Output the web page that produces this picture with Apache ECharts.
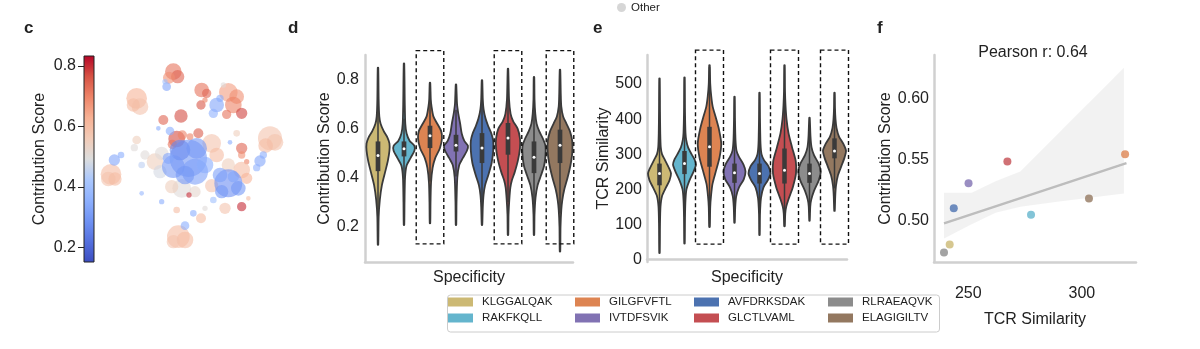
<!DOCTYPE html>
<html><head><meta charset="utf-8">
<script src="https://cdn.jsdelivr.net/npm/echarts@6/dist/echarts.min.js"></script>
<style>html,body{margin:0;padding:0;background:#fff}#c{width:1200px;height:349px}</style>
</head><body><div id="c"></div><script>
// ---------------- data ----------------
const categories = ['KLGGALQAK','RAKFKQLL','GILGFVFTL','IVTDFSVIK','AVFDRKSDAK','GLCTLVAML','RLRAEAQVK','ELAGIGILTV'];
const colors = ['#CCB974','#64B5CD','#DD8452','#8172B3','#4C72B0','#C44E52','#8C8C8C','#937860'];
const highlighted = [2, 5, 7];

// panel d: contribution score violins, [value, half width (fraction of band)]
const dProfiles = [
  [[0.127,0.01],[0.24,0.025],[0.31,0.07],[0.37,0.15],[0.43,0.29],[0.47,0.38],[0.51,0.44],[0.54,0.44],[0.565,0.36],[0.59,0.22],[0.62,0.1],[0.65,0.05],[0.72,0.025],[0.848,0.01]],
  [[0.208,0.01],[0.3,0.02],[0.4,0.04],[0.45,0.1],[0.48,0.25],[0.51,0.4],[0.53,0.4],[0.55,0.22],[0.58,0.1],[0.62,0.05],[0.7,0.03],[0.865,0.01]],
  [[0.215,0.01],[0.3,0.02],[0.38,0.04],[0.44,0.1],[0.48,0.2],[0.52,0.38],[0.56,0.46],[0.59,0.43],[0.62,0.28],[0.65,0.13],[0.69,0.06],[0.72,0.03],[0.787,0.01]],
  [[0.208,0.01],[0.3,0.02],[0.4,0.05],[0.45,0.12],[0.48,0.26],[0.51,0.42],[0.53,0.46],[0.55,0.32],[0.58,0.22],[0.62,0.16],[0.66,0.09],[0.7,0.04],[0.78,0.01]],
  [[0.208,0.01],[0.28,0.03],[0.33,0.06],[0.37,0.12],[0.41,0.24],[0.46,0.37],[0.51,0.43],[0.55,0.43],[0.58,0.36],[0.61,0.24],[0.64,0.14],[0.68,0.06],[0.72,0.03],[0.797,0.01]],
  [[0.167,0.01],[0.25,0.02],[0.31,0.05],[0.36,0.09],[0.39,0.15],[0.42,0.25],[0.47,0.38],[0.52,0.46],[0.56,0.46],[0.6,0.37],[0.63,0.2],[0.66,0.1],[0.72,0.04],[0.844,0.01]],
  [[0.167,0.01],[0.25,0.02],[0.32,0.06],[0.37,0.14],[0.41,0.27],[0.45,0.39],[0.49,0.44],[0.53,0.44],[0.56,0.34],[0.59,0.2],[0.62,0.1],[0.66,0.05],[0.72,0.02],[0.81,0.01]],
  [[0.10,0.01],[0.2,0.02],[0.27,0.05],[0.31,0.09],[0.35,0.16],[0.40,0.29],[0.45,0.4],[0.50,0.47],[0.55,0.47],[0.59,0.38],[0.62,0.25],[0.65,0.12],[0.69,0.05],[0.74,0.03],[0.84,0.01]]
];
// [lower whisker, q1, median, q3, upper whisker]
const dBoxes = [
  [0.245,0.427,0.491,0.548,0.73],
  [0.395,0.487,0.518,0.548,0.64],
  [0.385,0.521,0.571,0.612,0.748],
  [0.405,0.507,0.532,0.575,0.677],
  [0.277,0.46,0.521,0.582,0.765],
  [0.30,0.494,0.562,0.623,0.816],
  [0.226,0.419,0.484,0.548,0.74],
  [0.256,0.46,0.532,0.596,0.80]
];
const dBoxRange = [0.131, 0.918];
const dTicks = [0.2, 0.4, 0.6, 0.8];

// panel e: TCR similarity violins
const eProfiles = [
  [[18,0.01],[100,0.02],[150,0.04],[180,0.1],[205,0.26],[225,0.4],[245,0.46],[260,0.38],[283,0.22],[300,0.1],[320,0.05],[360,0.03],[420,0.02],[516,0.01]],
  [[45,0.01],[120,0.02],[170,0.04],[200,0.08],[225,0.2],[245,0.33],[270,0.46],[285,0.4],[300,0.28],[320,0.14],[340,0.07],[360,0.04],[420,0.02],[519,0.01]],
  [[92,0.01],[150,0.03],[180,0.06],[215,0.12],[255,0.27],[290,0.4],[330,0.47],[370,0.38],[405,0.25],[435,0.13],[465,0.07],[500,0.03],[554,0.01]],
  [[104,0.01],[150,0.03],[180,0.07],[205,0.18],[228,0.37],[250,0.44],[270,0.36],[292,0.18],[310,0.08],[340,0.04],[400,0.02],[464,0.01]],
  [[69,0.01],[130,0.02],[175,0.06],[205,0.16],[225,0.33],[245,0.44],[265,0.36],[283,0.18],[300,0.08],[330,0.04],[400,0.02],[475,0.01]],
  [[94,0.01],[130,0.03],[150,0.07],[175,0.18],[205,0.33],[245,0.46],[280,0.45],[320,0.3],[360,0.16],[400,0.08],[440,0.04],[480,0.02],[554,0.01]],
  [[110,0.01],[150,0.03],[170,0.07],[195,0.18],[225,0.37],[250,0.45],[272,0.37],[297,0.18],[320,0.08],[350,0.04],[404,0.01]],
  [[138,0.01],[180,0.03],[210,0.06],[240,0.14],[265,0.27],[290,0.4],[310,0.46],[330,0.35],[350,0.18],[375,0.08],[400,0.04],[430,0.02],[475,0.01]]
];
const eBoxes = [
  [118,211,245,273,366],
  [144,243,273,309,408],
  [93,264,321,378,549],
  [135,218,247,273,355],
  [130,216,245,273,358],
  [94,216,254,316,466],
  [135,218,245,273,355],
  [202,288,309,345,430]
];
const eBoxRange = [43, 597];
const eTicks = [0, 100, 200, 300, 400, 500];

// panel f: mean TCR similarity vs mean contribution score
const fX = [241.8, 277.6, 319.0, 250.1, 243.6, 267.2, 239.3, 303.1];
const fY = [0.480, 0.5044, 0.5543, 0.5303, 0.5097, 0.5482, 0.4733, 0.5179];
const regLine = [[239.3, 0.4973], [319.6, 0.5469]];
const ciUpper = [[239.3,0.5226],[251.5,0.5226],[262,0.532],[272.9,0.540],[318.5,0.6254]];
const ciLower = [[239.3,0.4849],[250.8,0.496],[262,0.506],[272.9,0.511],[289.1,0.5151],[318.5,0.522]];
const fXTicks = [250, 300];
const fYTicks = [0.50, 0.55, 0.60];
const pearson = 'Pearson r: 0.64';

// panel c: UMAP clusters [x, y, radius, contribution score]
const umapClusters = [
  [125,130,31,0.62],[135,155,25,0.58],[115,150,20,0.60],
  [48,358,31,0.60],[40,372,22,0.58],[60,372,20,0.60],
  [525,250,36,0.58],[540,262,25,0.58],[512,272,22,0.60],
  [250,545,34,0.60],[270,555,25,0.60],[235,560,20,0.58],
  [235,50,25,0.72],[248,65,20,0.74],[222,68,18,0.68],[215,95,13,0.33],[210,80,8,0.40],
  [320,105,22,0.72],[335,115,14,0.74],[318,150,14,0.76],[330,135,8,0.70],
  [400,112,28,0.66],[425,125,22,0.68],[415,150,25,0.70],[440,175,17,0.78],[395,178,14,0.72],[385,90,8,0.50],
  [365,150,22,0.33],[355,175,14,0.36],[375,130,11,0.35],
  [205,195,15,0.74],[258,183,20,0.77],[245,252,25,0.77],[232,268,14,0.72],[262,240,14,0.70],[225,228,13,0.35],[310,235,15,0.75],[285,245,10,0.70],
  [440,280,17,0.74],[425,235,10,0.55],[440,300,11,0.68],[455,320,8,0.70],
  [495,318,17,0.33],[505,300,11,0.35],[485,338,11,0.36],
  [58,315,17,0.33],[78,300,10,0.35],[125,255,13,0.55],[118,278,11,0.50],[150,300,14,0.50],[140,330,10,0.45],
  [180,320,25,0.55],[200,295,20,0.50],[195,350,20,0.48],[350,265,28,0.58],[365,300,22,0.60],[440,345,25,0.60],[455,370,17,0.62],[350,392,20,0.58],[260,400,28,0.50],[230,395,20,0.55],[300,410,17,0.52],[400,330,20,0.55],
  [280,310,56,0.30],[255,285,31,0.27],[305,280,31,0.30],[235,335,34,0.30],[300,350,39,0.32],[330,330,25,0.35],[270,360,28,0.30],[220,310,17,0.33],[400,385,42,0.28],[375,360,22,0.32],[430,400,22,0.30],[415,365,17,0.33],[380,410,20,0.30],
  [282,420,8,0.80],[440,455,14,0.80],[318,490,15,0.60],[390,460,17,0.58],[245,465,10,0.60],[270,512,13,0.35],[295,475,10,0.35],[200,440,8,0.35],[140,415,7,0.38],[355,435,10,0.40],[460,430,7,0.60],[190,220,7,0.35],[405,262,7,0.35],[330,460,8,0.50]
];
const cbRange = [0.151, 0.833];
const cbTicks = [0.2, 0.4, 0.6, 0.8];

// ---------------- chart ----------------
const coolwarm = ['#3b4cc0','#5470de','#6f92f3','#8db0fe','#aac7fd','#dcdddd','#f2cbb7','#f7b194','#ee8468','#d65244','#b40426'];
const FONT = 'Liberation Sans, Arial, sans-serif';
const TXT = '#222';
const AXC = '#d0d0d0';
const OUT = '#3a3a3a';

function violin(name, idx, profile, box, axisIdx) {
  return {
    type: 'custom', name, xAxisIndex: axisIdx, yAxisIndex: axisIdx, z: 3,
    itemStyle: { color: colors[idx] }, data: [[idx, box[2]]],
    renderItem(params, api) {
      const cx = api.coord([idx, box[2]])[0];
      const bw = api.size([1, 0])[0];
      const y = v => api.coord([idx, v])[1];
      const right = profile.map(p => [cx + p[1] * bw, y(p[0])]);
      const left = profile.slice().reverse().map(p => [cx - p[1] * bw, y(p[0])]);
      return { type: 'group', children: [
        { type: 'polygon', shape: { points: right.concat(left), smooth: 0.25 },
          style: { fill: colors[idx], stroke: OUT, lineWidth: 1.8 } },
        { type: 'line', shape: { x1: cx, y1: y(box[0]), x2: cx, y2: y(box[4]) },
          style: { stroke: OUT, lineWidth: 1.5 } },
        { type: 'rect', shape: { x: cx - 0.09 * bw, y: y(box[3]), width: 0.18 * bw, height: y(box[1]) - y(box[3]) },
          style: { fill: OUT } },
        { type: 'circle', shape: { cx, cy: y(box[2]), r: 1.5 }, style: { fill: '#fff' } }
      ]};
    }
  };
}
function dashedBoxes(axisIdx, range, widthFrac) {
  return {
    type: 'custom', xAxisIndex: axisIdx, yAxisIndex: axisIdx, z: 5, silent: true,
    data: highlighted.map(i => [i, range[0]]),
    renderItem(params, api) {
      const i = api.value(0);
      const bw = api.size([1, 0])[0];
      const top = api.coord([i, range[1]]);
      const bot = api.coord([i, range[0]]);
      return { type: 'rect', shape: { x: top[0] - widthFrac * bw, y: top[1], width: 2 * widthFrac * bw, height: bot[1] - top[1] },
        style: { fill: 'none', stroke: '#111', lineWidth: 1.4, lineDash: [4, 3] } };
    }
  };
}
function axisLineStyle() { return { show: true, lineStyle: { color: AXC, width: 2.5 } }; }

const series = [];
// 0: UMAP
series.push({
  type: 'custom', xAxisIndex: 0, yAxisIndex: 0, data: umapClusters, encode: { x: 0, y: 1 },
  renderItem(params, api) {
    const c = api.coord([api.value(0), api.value(1)]);
    const r = api.size([api.value(2), 0])[0];
    return { type: 'circle', shape: { cx: c[0], cy: c[1], r },
      style: { fill: api.visual('color'), opacity: 0.6 } };
  }
});
// 1: colorbar
series.push({
  type: 'custom', xAxisIndex: 1, yAxisIndex: 1, data: [[0, cbRange[0]]], silent: true,
  renderItem(params, api) {
    const p1 = api.coord([0, cbRange[1]]);
    const p2 = api.coord([1, cbRange[0]]);
    const stops = coolwarm.map((c, i) => ({ offset: i / (coolwarm.length - 1), color: c }));
    return { type: 'rect', shape: { x: p1[0], y: p1[1], width: p2[0] - p1[0], height: p2[1] - p1[1] },
      style: { fill: new echarts.graphic.LinearGradient(0, 1, 0, 0, stops), stroke: '#222', lineWidth: 1 } };
  }
});
categories.forEach((n, i) => series.push(violin(n, i, dProfiles[i], dBoxes[i], 2)));
categories.forEach((n, i) => series.push(violin(n, i, eProfiles[i], eBoxes[i], 3)));
series.push(dashedBoxes(2, dBoxRange, 0.53));
series.push(dashedBoxes(3, eBoxRange, 0.56));
// panel f
series.push({
  type: 'custom', xAxisIndex: 4, yAxisIndex: 4, data: [[ciUpper[0][0], ciUpper[0][1]]], silent: true, z: 1,
  renderItem(params, api) {
    const pts = ciUpper.map(p => api.coord(p)).concat(ciLower.slice().reverse().map(p => api.coord(p)));
    return { type: 'polygon', shape: { points: pts }, style: { fill: '#eeeeee', opacity: 0.75 } };
  }
});
series.push({ type: 'line', xAxisIndex: 4, yAxisIndex: 4, data: regLine, symbol: 'none', z: 2,
  lineStyle: { color: '#bdbdbd', width: 2.5 }, silent: true });
series.push({ type: 'scatter', xAxisIndex: 4, yAxisIndex: 4, symbolSize: 8, z: 4,
  data: fX.map((x, i) => ({ value: [x, fY[i]], itemStyle: { color: colors[i] } })) });
series.push({ type: 'scatter', name: 'Other', xAxisIndex: 4, yAxisIndex: 4, data: [], itemStyle: { color: '#cccccc' } });

const legendLefts = [448, 575, 694, 828];
const legends = legendLefts.map((l, col) => ({
  orient: 'vertical', left: l, top: 296, padding: 0, itemGap: 4, itemWidth: 25, itemHeight: 9, icon: 'rect',
  data: [categories[2 * col], categories[2 * col + 1]], selectedMode: false,
  itemStyle: { borderWidth: 0 },
  textStyle: { fontSize: 11.5, color: TXT, fontFamily: FONT, padding: [0, 0, 0, 4] }
}));
legends.push({ left: 617, top: 1.5, padding: 0, itemWidth: 9, itemHeight: 9, icon: 'circle', selectedMode: false,
  data: ['Other'], textStyle: { fontSize: 11.5, color: TXT, fontFamily: FONT } });

const chart = echarts.init(document.getElementById('c'), null, { renderer: 'canvas' });
chart.setOption({
  animation: false,
  textStyle: { fontFamily: FONT },
  title: [
    { text: 'c', left: 24, top: 20, padding: 0, textStyle: { fontSize: 17, fontWeight: 'bold', color: TXT } },
    { text: 'd', left: 288, top: 20, padding: 0, textStyle: { fontSize: 17, fontWeight: 'bold', color: TXT } },
    { text: 'e', left: 593, top: 20, padding: 0, textStyle: { fontSize: 17, fontWeight: 'bold', color: TXT } },
    { text: 'f', left: 877, top: 20, padding: 0, textStyle: { fontSize: 17, fontWeight: 'bold', color: TXT } },
    { text: pearson, left: 1033, top: 45, padding: 0, textAlign: 'center', textStyle: { fontSize: 16, fontWeight: 'normal', color: TXT } }
  ],
  legend: legends,
  visualMap: { type: 'continuous', show: false, min: cbRange[0], max: cbRange[1], dimension: 3, seriesIndex: 0,
    inRange: { color: coolwarm } },
  graphic: [{ type: 'rect', left: 445, top: 292.5, shape: { width: 492, height: 37, r: 3 },
    style: { fill: 'none', stroke: '#cccccc', lineWidth: 1 } }],
  grid: [
    { left: 95, top: 55, width: 195, height: 205 },
    { left: 84, top: 56, width: 10, height: 206 },
    { left: 365, top: 55, width: 208, height: 207 },
    { left: 647, top: 55, width: 200, height: 207 },
    { left: 934, top: 55, width: 202, height: 207 }
  ],
  xAxis: [
    { gridIndex: 0, type: 'value', min: 0, max: 585, show: false },
    { gridIndex: 1, type: 'value', min: 0, max: 1, show: false },
    { gridIndex: 2, type: 'category', data: categories, axisLine: axisLineStyle(), axisTick: { show: false }, axisLabel: { show: false },
      name: 'Specificity', nameLocation: 'middle', nameGap: 8, nameTextStyle: { fontSize: 16, color: TXT, verticalAlign: 'top' } },
    { gridIndex: 3, type: 'category', data: categories, axisLine: axisLineStyle(), axisTick: { show: false }, axisLabel: { show: false },
      name: 'Specificity', nameLocation: 'middle', nameGap: 8, nameTextStyle: { fontSize: 16, color: TXT, verticalAlign: 'top' } },
    { gridIndex: 4, type: 'value', min: 234.9, max: 323.8, axisLine: axisLineStyle(), axisTick: { show: false }, splitLine: { show: false },
      axisLabel: { customValues: fXTicks, fontSize: 16, color: TXT, margin: 24 },
      name: 'TCR Similarity', nameLocation: 'middle', nameGap: 50, nameTextStyle: { fontSize: 16, color: TXT, verticalAlign: 'top' } }
  ],
  yAxis: [
    { gridIndex: 0, type: 'value', min: 0, max: 615, inverse: true, show: false },
    { gridIndex: 1, type: 'value', min: cbRange[0], max: cbRange[1], splitLine: { show: false }, axisLine: { show: false },
      axisTick: { show: true, customValues: cbTicks, length: 6, lineStyle: { color: '#222', width: 1 } },
      axisLabel: { customValues: cbTicks, fontSize: 16, color: TXT, margin: 8, formatter: v => v.toFixed(1) },
      name: 'Contribution Score', nameLocation: 'middle', nameGap: 36, nameTextStyle: { fontSize: 16, color: TXT } },
    { gridIndex: 2, type: 'value', min: 0.057, max: 0.9, splitLine: { show: false }, axisLine: axisLineStyle(), axisTick: { show: false },
      axisLabel: { customValues: dTicks, fontSize: 16, color: TXT, margin: 6, formatter: v => v.toFixed(1) },
      name: 'Contribution Score', nameLocation: 'middle', nameGap: 27, nameTextStyle: { fontSize: 16, color: TXT } },
    { gridIndex: 3, type: 'value', min: -8, max: 583, splitLine: { show: false }, axisLine: axisLineStyle(), axisTick: { show: false },
      axisLabel: { customValues: eTicks, fontSize: 16, color: TXT, margin: 5 },
      name: 'TCR Similarity', nameLocation: 'middle', nameGap: 35, nameTextStyle: { fontSize: 16, color: TXT } },
    { gridIndex: 4, type: 'value', min: 0.4655, max: 0.636, splitLine: { show: false }, axisLine: axisLineStyle(), axisTick: { show: false },
      axisLabel: { customValues: fYTicks, fontSize: 16, color: TXT, margin: 5, formatter: v => v.toFixed(2) },
      name: 'Contribution Score', nameLocation: 'middle', nameGap: 35, nameTextStyle: { fontSize: 16, color: TXT } }
  ],
  series
});
</script></body></html>
